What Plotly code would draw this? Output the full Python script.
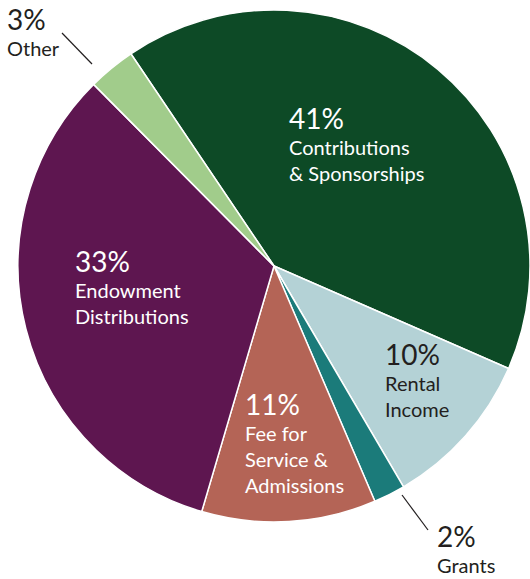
import plotly.graph_objects as go

categories = ["Contributions & Sponsorships", "Rental Income", "Grants",
              "Fee for Service & Admissions", "Endowment Distributions", "Other"]
values = [41, 10, 2, 11, 33, 3]
colors = ["#0d4a26", "#b4d2d6", "#1b7b7a", "#b46456", "#5e1650", "#a1cc8b"]
pct_labels = ["41%", "10%", "2%", "11%", "33%", "3%"]
name_lines = [["Contributions", "& Sponsorships"], ["Rental", "Income"], ["Grants"],
              ["Fee for", "Service &", "Admissions"], ["Endowment", "Distributions"], ["Other"]]
text_colors = ["white", "#231f20", "#231f20", "white", "white", "#231f20"]

W, H = 530, 579
# top-left pixel positions of each label block
label_pos = [(287, 99), (383, 335), (435, 517), (243, 385), (73, 242), (5, 0)]

fig = go.Figure()
fig.add_trace(go.Pie(
    labels=categories, values=values, sort=False, direction="clockwise",
    rotation=-34, marker=dict(colors=colors, line=dict(color="white", width=1.5)),
    textinfo="none", hoverinfo="label+percent", showlegend=False,
    domain=dict(x=[18 / W, 1.0], y=[1 - 522 / H, 1 - 10 / H]),
))

for pct, lines, col, (px, py) in zip(pct_labels, name_lines, text_colors, label_pos):
    txt = "<span style='font-size:28px'>" + pct + "</span><br>" + "<br>".join(lines)
    fig.add_annotation(
        x=px / W, y=1 - py / H, xref="paper", yref="paper",
        xanchor="left", yanchor="top", align="left", showarrow=False,
        text=txt, font=dict(family="Lato", size=20, color=col),
    )

for (x0, y0, x1, y1) in [(62, 33, 92, 64), (402, 495, 428, 530)]:
    fig.add_shape(type="line", xref="paper", yref="paper",
                  x0=x0 / W, y0=1 - y0 / H, x1=x1 / W, y1=1 - y1 / H,
                  line=dict(color="#231f20", width=1.2))

fig.update_layout(width=W, height=H, margin=dict(l=0, r=0, t=0, b=0),
                  paper_bgcolor="white", plot_bgcolor="white")
fig.write_html("out.html", config={"displayModeBar": False},
               post_script="document.body.style.margin='0';document.body.style.overflow='hidden';")
